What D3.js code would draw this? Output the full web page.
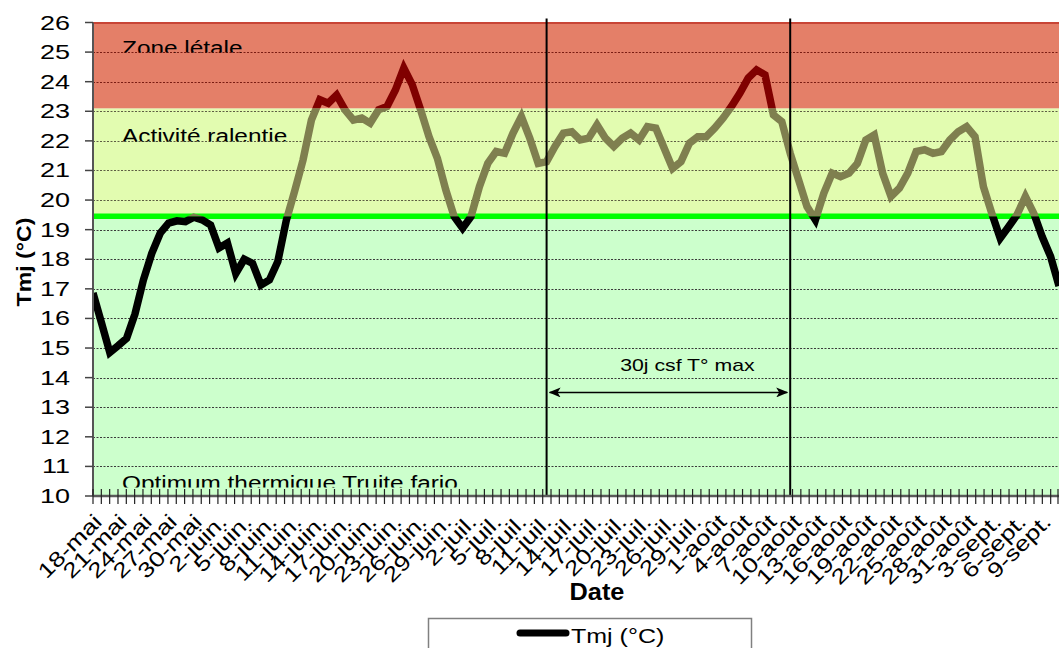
<!DOCTYPE html>
<html>
<head>
<meta charset="utf-8">
<script src="https://cdn.jsdelivr.net/npm/d3@7"></script>
<style>
  body { margin: 0; background: #fff; }
  svg { display: block; }
  text { font-family: "Liberation Sans", Arial, sans-serif; fill: #000; }
</style>
</head>
<body>
<svg id="chart"></svg>
<script>
// daily mean temperature (Tmj), 18 May -> 10 Sept
const startDate = new Date(2011, 4, 18);
const tmj = [
  16.86, 15.86, 14.85, 15.08, 15.33, 16.15, 17.3, 18.2, 18.88, 19.22,
  19.3, 19.27, 19.42, 19.33, 19.16, 18.38, 18.55, 17.52, 18.0, 17.86,
  17.13, 17.3, 17.92, 19.3, 20.3, 21.35, 22.7, 23.39, 23.27, 23.55,
  23.05, 22.7, 22.77, 22.6, 23.05, 23.16, 23.72, 24.46, 23.9, 23.05,
  22.14, 21.41, 20.34, 19.44, 19.05, 19.44, 20.45, 21.24, 21.64, 21.58,
  22.26, 22.82, 22.09, 21.24, 21.3, 21.81, 22.26, 22.31, 22.03, 22.09,
  22.54, 22.09, 21.81, 22.09, 22.26, 22.03, 22.48, 22.43, 21.75, 21.07,
  21.3, 21.92, 22.14, 22.14, 22.43, 22.77, 23.16, 23.61, 24.12, 24.4,
  24.23, 22.88, 22.65, 21.58, 20.68, 19.78, 19.33, 20.23, 20.91, 20.79,
  20.91, 21.24, 22.03, 22.2, 20.91, 20.12, 20.4, 20.91, 21.64, 21.7,
  21.58, 21.64, 22.03, 22.31, 22.48, 22.14, 20.45, 19.55, 18.71, 19.1,
  19.5, 20.12, 19.55, 18.76, 18.09, 17.1
];
const tickLabels = [
  "18-mai", "21-mai", "24-mai", "27-mai", "30-mai", "2-juin.", "5-juin.", "8-juin.",
  "11-juin.", "14-juin.", "17-juin.", "20-juin.", "23-juin.", "26-juin.", "29-juin.",
  "2-juil.", "5-juil.", "8-juil.", "11-juil.", "14-juil.", "17-juil.", "20-juil.",
  "23-juil.", "26-juil.", "29-juil.", "1-août", "4-août", "7-août", "10-août",
  "13-août", "16-août", "19-août", "22-août", "25-août", "28-août", "31-août",
  "3-sept.", "6-sept.", "9-sept."
];
const zoneNames = ["Optimum thermique Truite fario", "Activité ralentie", "Zone létale"];
const zoneLimits = [10, 19.45, 23.1, 26];
const yTicks = d3.range(10, 27);
const markerIdx = [54, 83];   // 30 jours consécutifs
const arrowLabel = "30j csf T° max";

const W = 1059, H = 648;
const pL = 93, pR = 1059, pT = 22.5, pB = 496;
const SX = 1.25; // glyphs in the source are horizontally wide

const days = d3.timeDay.range(startDate, d3.timeDay.offset(startDate, tmj.length));
const data = days.map((d, i) => ({ date: d, v: tmj[i] }));

const svg = d3.select("#chart").attr("width", W).attr("height", H);

const xb = d3.scaleBand().domain(days).range([pL, pR]).padding(0);
const xp = d3.scalePoint().domain(days).range([pL, pR]).padding(0);
const y = d3.scaleLinear().domain([10, 26]).range([pB, pT]);

const zoneFill = ["#ccffcc", "#e2fcb0", "#e47f68"];
const zoneLine = ["#000000", "#7f7f4f", "#800000"];
const zoneGrid = ["#3a3a3a", "#5e5e44", "#7a1c12"];

const defs = svg.append("defs");
zoneNames.forEach((n, i) => {
  defs.append("clipPath").attr("id", "zone" + i)
    .append("rect")
    .attr("x", pL).attr("width", pR - pL)
    .attr("y", y(zoneLimits[i + 1])).attr("height", y(zoneLimits[i]) - y(zoneLimits[i + 1]));
});

// zone backgrounds
svg.append("g").selectAll("rect")
  .data(zoneNames)
  .enter().append("rect")
  .attr("x", pL).attr("width", pR - pL)
  .attr("y", (d, i) => y(zoneLimits[i + 1]))
  .attr("height", (d, i) => y(zoneLimits[i]) - y(zoneLimits[i + 1]))
  .attr("fill", (d, i) => zoneFill[i]);

// top border of the red zone
svg.append("line")
  .attr("x1", pL).attr("x2", pR).attr("y1", y(26) + 0.5).attr("y2", y(26) + 0.5)
  .attr("stroke", "#c84536").attr("stroke-width", 2);

// dashed gridlines
const zoneOf = v => (v > zoneLimits[2] ? 2 : v > zoneLimits[1] ? 1 : 0);
svg.append("g").selectAll("line")
  .data(yTicks.filter(v => v > 10 && v < 26))
  .enter().append("line")
  .attr("x1", pL).attr("x2", pR)
  .attr("y1", d => Math.round(y(d)) + 0.5).attr("y2", d => Math.round(y(d)) + 0.5)
  .attr("stroke", d => zoneGrid[zoneOf(d)])
  .attr("stroke-width", 1)
  .attr("stroke-dasharray", "2,1.5");

// zone labels, clipped at the gridline like in the source
const clipY = [pB - 8.5, y(22) + 0.5, y(25) + 0.5];
const baseY = [pB - 6, y(22) + 2.5, y(25) + 2.5];
zoneNames.forEach((n, i) => {
  defs.append("clipPath").attr("id", "lab" + i)
    .append("rect").attr("x", 0).attr("y", 0).attr("width", W).attr("height", clipY[i]);
  svg.append("g").attr("clip-path", `url(#lab${i})`)
    .append("text")
    .attr("transform", `translate(${pL + 29},${baseY[i]}) scale(${SX},1)`)
    .attr("font-size", 19.5)
    .text(n);
});

// threshold line
svg.append("line")
  .attr("x1", pL).attr("x2", pR)
  .attr("y1", y(zoneLimits[1])).attr("y2", y(zoneLimits[1]))
  .attr("stroke", "#00ff00").attr("stroke-width", 5.5);

// temperature line, coloured by zone
const line = d3.line().x(d => xp(d.date)).y(d => y(d.v));
zoneNames.forEach((n, i) => {
  svg.append("path")
    .datum(data)
    .attr("clip-path", `url(#zone${i})`)
    .attr("d", line)
    .attr("fill", "none")
    .attr("stroke", zoneLine[i])
    .attr("stroke-width", 7.5)
    .attr("stroke-linejoin", "miter")
    .attr("stroke-miterlimit", 3);
});

// vertical markers
svg.append("g").selectAll("line")
  .data(markerIdx)
  .enter().append("line")
  .attr("x1", d => xp(days[d])).attr("x2", d => xp(days[d]))
  .attr("y1", pT - 4).attr("y2", pB)
  .attr("stroke", "#000").attr("stroke-width", 2);

// double arrow + label
defs.append("marker").attr("id", "arr")
  .attr("viewBox", "0 0 12 10").attr("refX", 11).attr("refY", 5)
  .attr("markerWidth", 12).attr("markerHeight", 10).attr("markerUnits", "userSpaceOnUse")
  .attr("orient", "auto-start-reverse")
  .append("path").attr("d", "M0,0 L12,5 L0,10 L3,5 Z").attr("fill", "#000");
const ax1 = xp(days[markerIdx[0]]) + 3, ax2 = xp(days[markerIdx[1]]) - 3;
svg.append("line")
  .attr("x1", ax1).attr("x2", ax2).attr("y1", y(13.5)).attr("y2", y(13.5))
  .attr("stroke", "#000").attr("stroke-width", 1.5)
  .attr("marker-start", "url(#arr)").attr("marker-end", "url(#arr)");
svg.append("text")
  .attr("transform", `translate(${(ax1 + ax2) / 2 + 19},${y(14.23)}) scale(${SX},1)`)
  .attr("text-anchor", "middle")
  .attr("font-size", 17)
  .text(arrowLabel);

// y axis
svg.append("line")
  .attr("x1", pL).attr("x2", pL).attr("y1", pT).attr("y2", pB)
  .attr("stroke", "#555").attr("stroke-width", 2);
const yt = svg.append("g").selectAll("g").data(yTicks).enter().append("g");
yt.append("line")
  .attr("x1", pL - 8).attr("x2", pL)
  .attr("y1", d => y(d)).attr("y2", d => y(d))
  .attr("stroke", "#444").attr("stroke-width", 1.5);
yt.append("text")
  .attr("transform", d => `translate(70,${y(d) + 7}) scale(1.35,1)`)
  .attr("text-anchor", "end")
  .attr("font-size", 20)
  .text(d => d);

// x axis
svg.append("line")
  .attr("x1", pL).attr("x2", pR).attr("y1", pB).attr("y2", pB)
  .attr("stroke", "#5a5a5a").attr("stroke-width", 2.5);
const tickX = days.map(d => xb(d)).concat([pR - 1]);
svg.append("g").selectAll("line")
  .data(tickX)
  .enter().append("line")
  .attr("x1", d => d).attr("x2", d => d)
  .attr("y1", pB - 7).attr("y2", pB + 8)
  .attr("stroke", "#222").attr("stroke-width", 1.2);

svg.append("g").selectAll("text")
  .data(tickLabels)
  .enter().append("text")
  .attr("transform", (d, i) => {
    const day = days[i * 3];
    return `translate(${xb(day) + xb.bandwidth() / 2 + 6},${pB + 27}) rotate(-45) scale(${SX},1)`;
  })
  .attr("text-anchor", "end")
  .attr("font-size", 21)
  .text(d => d);

// axis titles
svg.append("text")
  .attr("transform", `translate(597,600) scale(1.1,1)`)
  .attr("text-anchor", "middle")
  .attr("font-size", 23).attr("font-weight", "bold")
  .text("Date");
svg.append("text")
  .attr("transform", `translate(31,262) rotate(-90) scale(1.1,1)`)
  .attr("text-anchor", "middle")
  .attr("font-size", 21).attr("font-weight", "bold")
  .text("Tmj (°C)");

// legend
const lg = svg.append("g");
lg.append("rect")
  .attr("x", 428.5).attr("y", 618.5).attr("width", 323).attr("height", 40)
  .attr("fill", "#fff").attr("stroke", "#808080").attr("stroke-width", 1.5);
lg.append("line")
  .attr("x1", 520).attr("x2", 566).attr("y1", 633).attr("y2", 633)
  .attr("stroke", "#000").attr("stroke-width", 7).attr("stroke-linecap", "round");
lg.append("text")
  .attr("transform", `translate(571,643) scale(${SX},1)`)
  .attr("font-size", 20)
  .text("Tmj (°C)");
</script>
</body>
</html>
